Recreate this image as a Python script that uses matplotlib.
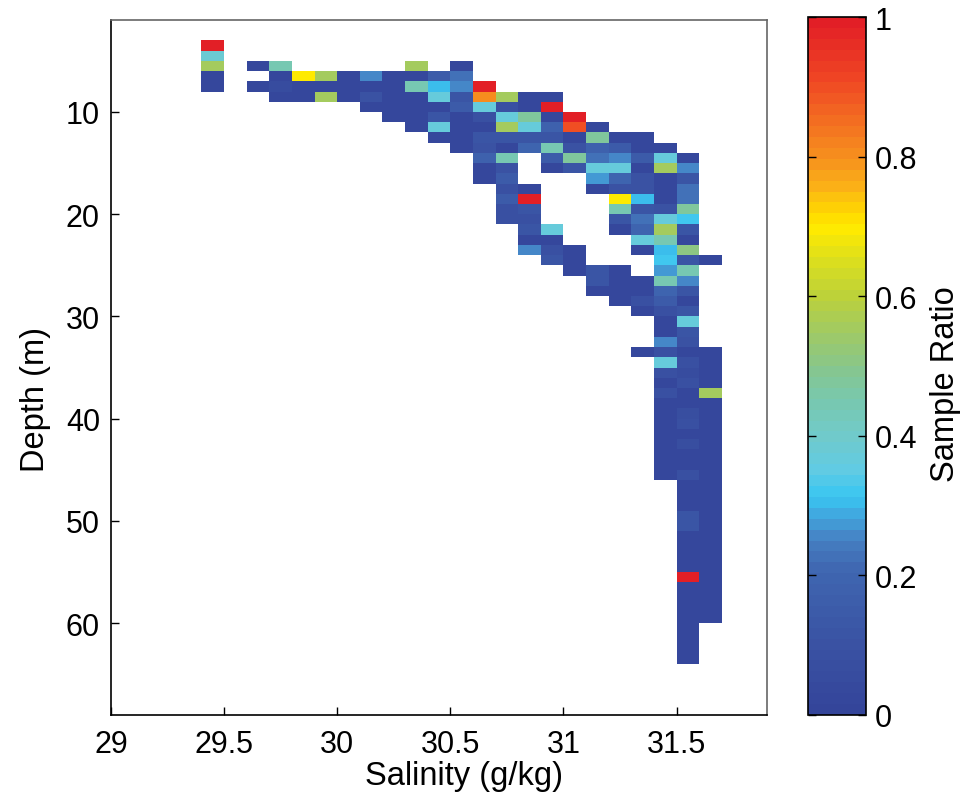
import numpy as np
import matplotlib
matplotlib.use("Agg")
import matplotlib.pyplot as plt
from matplotlib.colors import LinearSegmentedColormap, ListedColormap

plt.rcParams['font.family'] = ['Liberation Sans', 'DejaVu Sans']

# Salinity bins (lower edge, g/kg), bin width 0.1; depth bins 1 m
sal_width = 0.1
col_salinity = [29.4, 29.6, 29.7, 29.8, 29.9, 30.0, 30.1, 30.2, 30.3, 30.4,
                30.5, 30.6, 30.7, 30.8, 30.9, 31.0, 31.1, 31.2, 31.3, 31.4,
                31.5, 31.6]
# Depth (m) of the first cell of each salinity column
col_top_depth = [3, 5, 5, 6, 6, 6, 6, 6, 5, 6,
                 5, 7, 8, 8, 8, 10, 11, 12, 12, 13,
                 14, 24]
L = 0.03  # low sample ratio
N = None  # no samples
col_ratio = [
    [1.0, 0.38, 0.55, L, L],                                   # 29.4
    [L, N, L],                                                 # 29.6
    [0.45, L, 0.05, L],                                        # 29.7
    [0.70, L, L],                                              # 29.8
    [0.55, L, 0.55],                                           # 29.9
    [L, L, L],                                                 # 30.0
    [0.25, L, 0.10, L],                                        # 30.1
    [L, L, L, L, L],                                           # 30.2
    [0.55, L, 0.45, L, L, L, L],                               # 30.3
    [0.15, 0.30, 0.37, L, 0.12, 0.37, L],                      # 30.4
    [L, 0.22, 0.25, 0.12, 0.15, L, L, L, L],                   # 30.5
    [1.0, 0.80, 0.37, 0.08, L, 0.12, 0.10, 0.18, L, L],        # 30.6
    [0.55, 0.08, 0.37, 0.55, 0.12, L, 0.45, 0.10, 0.15, 0.08,
     0.15, 0.08, 0.08],                                        # 30.7
    [L, L, 0.48, 0.37, 0.12, 0.20, N, N, N, L, 1.0, 0.12, 0.08,
     0.12, L, 0.25],                                           # 30.8
    [L, 1.0, L, 0.18, 0.12, 0.45, 0.15, L, N, N, N, N, N, 0.37,
     L, 0.08, 0.12],                                           # 30.9
    [1.0, 0.90, L, 0.10, 0.47, 0.12, N, N, N, N, N, N, N, L, L, L],  # 31.0
    [L, 0.47, 0.18, 0.22, 0.37, 0.28, L, N, N, N, N, N, N, N,
     0.12, 0.12, L],                                           # 31.1
    [L, 0.15, 0.25, 0.37, 0.20, 0.10, 0.70, 0.45, 0.12, L, N, N, N,
     L, L, L, L],                                              # 31.2
    [L, L, 0.15, L, 0.10, 0.10, 0.30, 0.12, 0.22, 0.20, 0.37, L,
     N, N, L, L, 0.08, L, N, N, N, L],                         # 31.3
    [L, 0.37, 0.55, L, L, L, 0.10, 0.37, 0.55, 0.45, 0.30, 0.32,
     0.28, 0.45, 0.20, 0.15, 0.08, L, L, 0.25, 0.08, 0.37, 0.08,
     L, 0.08, L, L, L, L, L, L, L, L],                         # 31.4
    [L, 0.25, 0.12, 0.22, 0.22, 0.48, 0.32, 0.12, L, 0.50, 0.12,
     0.45, 0.25, 0.12, L, 0.12, 0.37, 0.12, 0.10, L, 0.08, 0.06,
     0.08, L, L, 0.07, 0.08, L, 0.07, L, L, 0.08, L, L, L, 0.12,
     0.12, L, L, L, L, 1.0, L, L, L, L, L, L, L, L],           # 31.5
    [L, N, N, N, N, N, N, N, N, L, L, L, L, 0.55, L, L, L, L, L,
     L, L, L, L, L, L, L, L, L, L, L, L, L, L, L, L, L],       # 31.6
]

# Build the salinity x depth grid
sal_edges = np.round(np.arange(29.0, 31.9 + 1e-9, sal_width), 2)
depth_edges = np.arange(0, 70, 1.0)
grid = np.full((len(depth_edges) - 1, len(sal_edges) - 1), np.nan)
for s, d0, vals in zip(col_salinity, col_top_depth, col_ratio):
    j = int(round((s - 29.0) / sal_width))
    for k, v in enumerate(vals):
        if v is not None:
            grid[d0 + k, j] = v

# Rainbow colormap, 64 discrete levels
anchors = [
    (0.00, "#34459A"), (0.10, "#3A53A4"), (0.20, "#3F66B0"),
    (0.25, "#4682C4"), (0.28, "#42A3DC"), (0.31, "#38C6F2"),
    (0.35, "#62CBE3"), (0.40, "#71CAC9"), (0.45, "#78C8AE"),
    (0.50, "#88C68A"), (0.55, "#A0CA64"), (0.60, "#BBD13B"),
    (0.65, "#D9DE20"), (0.70, "#FFEB00"), (0.72, "#FFD900"),
    (0.76, "#FBB416"), (0.80, "#F7941D"), (0.86, "#F36C21"),
    (0.92, "#EF4524"), (1.00, "#E21F26"),
]
smooth = LinearSegmentedColormap.from_list("ratio", anchors)
cmap = ListedColormap(smooth(np.linspace(0, 1, 64)))

fig = plt.figure(figsize=(9.67, 8.04), dpi=100)
ax = fig.add_axes([111 / 967, 88 / 804, 656 / 967, 695 / 804])
cax = fig.add_axes([808 / 967, 88 / 804, 58 / 967, 698 / 804])

mesh = ax.pcolormesh(sal_edges, depth_edges, np.ma.masked_invalid(grid),
                     cmap=cmap, vmin=0, vmax=1, shading='flat',
                     edgecolors='none', antialiased=False)

ax.set_xlim(29, 31.9)
ax.set_ylim(69, 1)
ax.set_xticks([29, 29.5, 30, 30.5, 31, 31.5])
ax.set_xticklabels(["29", "29.5", "30", "30.5", "31", "31.5"])
ax.set_yticks([10, 20, 30, 40, 50, 60])
ax.tick_params(axis='both', direction='in', length=6, width=1,
               labelsize=22, colors='black')
ax.tick_params(axis='x', pad=10)
ax.tick_params(axis='y', pad=8)
ax.set_xlabel("Salinity (g/kg)", fontsize=23.5)
ax.set_ylabel("Depth (m)", fontsize=23.5)
ax.xaxis.set_label_coords(0.538, -0.065)
ax.yaxis.set_label_coords(-0.092, 0.455)
for side in ('left', 'bottom'):
    ax.spines[side].set_color('black')
    ax.spines[side].set_linewidth(1.2)
for side in ('top', 'right'):
    ax.spines[side].set_color('#666666')
    ax.spines[side].set_linewidth(1.2)

cb = fig.colorbar(mesh, cax=cax)
cb.set_ticks([0, 0.2, 0.4, 0.6, 0.8, 1])
cb.set_ticklabels(["0", "0.2", "0.4", "0.6", "0.8", "1"])
cax.tick_params(direction='in', length=6, width=1, labelsize=22, pad=6,
                left=True, right=True)
cb.outline.set_linewidth(1.2)
cb.set_label("Sample Ratio", fontsize=23.5)
cax.yaxis.set_label_coords(2.1, 0.475)

fig.savefig("out.png", dpi=100)
